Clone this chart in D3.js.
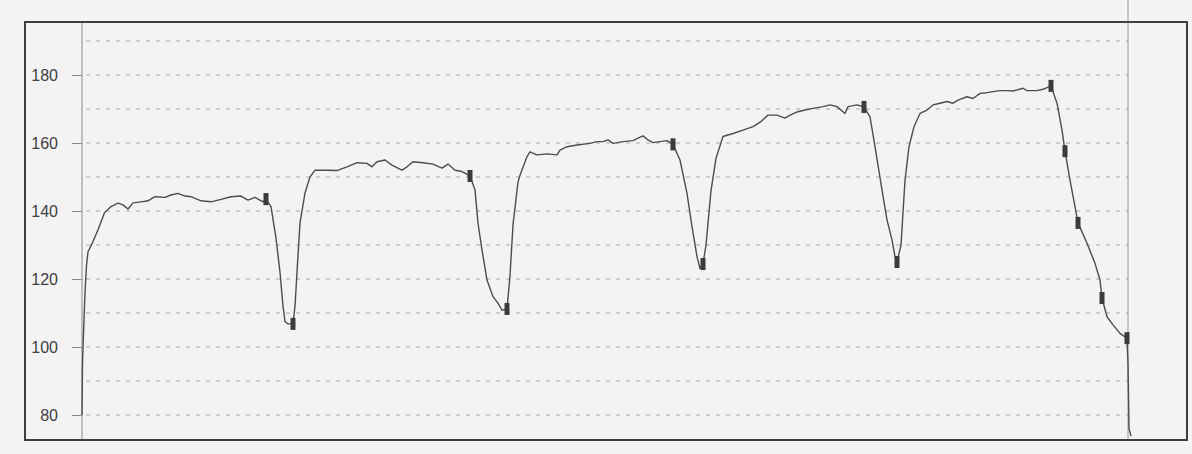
<!DOCTYPE html>
<html>
<head>
<meta charset="utf-8">
<script src="https://cdn.jsdelivr.net/npm/d3@7"></script>
<style>
  html, body { margin: 0; padding: 0; background: #f5f4f5; }
  svg { display: block; }
</style>
</head>
<body>
<svg id="chart" width="1192" height="454"></svg>
<script>
// Heart rate trace (beats/min) over elapsed time (s)
const time = [
  0, 1, 3, 6, 9, 12, 22, 32, 45, 58, 72, 82, 92, 102, 118, 132, 146, 166, 178, 192,
  206, 218, 238, 258, 278, 298, 318, 332, 346, 362, 368, 378, 388, 396, 402, 406, 412, 422, 426, 430,
  436, 446, 456, 466, 490, 510, 530, 550, 570, 580, 590, 606, 620, 640, 650, 662, 682, 702, 720, 732,
  746, 760, 776, 786, 792, 800, 810, 822, 832, 840, 850, 856, 862, 866, 872, 876, 890, 896, 910, 930,
  950, 956, 970, 990, 1016, 1030, 1042, 1052, 1062, 1082, 1102, 1112, 1122, 1132, 1142, 1156, 1170, 1182, 1196, 1210,
  1220, 1230, 1236, 1242, 1248, 1258, 1268, 1282, 1302, 1322, 1342, 1358, 1372, 1390, 1406, 1416, 1432, 1446, 1462, 1482,
  1496, 1510, 1526, 1532, 1550, 1564, 1576, 1586, 1600, 1610, 1620, 1626, 1630, 1638, 1646, 1654, 1664, 1676, 1690, 1702,
  1716, 1730, 1742, 1752, 1770, 1782, 1796, 1810, 1822, 1836, 1850, 1862, 1882, 1890, 1910, 1922, 1938, 1950, 1960, 1966,
  1976, 1986, 1992, 2010, 2026, 2036, 2040, 2050, 2062, 2076, 2090, 2092, 2094, 2098
];
const heartRate = [
  80, 95, 104, 116, 124, 128, 131, 134.5, 139.5, 141.3, 142.3, 141.8, 140.6, 142.4, 142.7, 143, 144.2, 144, 144.7, 145.2,
  144.4, 144.2, 143, 142.7, 143.4, 144.2, 144.4, 143.2, 144, 142.7, 143.5, 141.3, 132, 122, 112, 107.5, 106.8, 106.8, 112, 122,
  136.5, 145.3, 150, 152, 152, 151.9, 153, 154.2, 154, 153, 154.5, 155, 153.5, 152, 153, 154.5, 154.2, 153.8, 152.6, 153.8,
  152, 151.6, 150.3, 146.2, 136.4, 128.5, 119.7, 114.8, 112.9, 110.8, 111.2, 121, 136, 141, 148.5, 150.5, 156, 157.4, 156.5, 156.8,
  156.5, 157.9, 158.9, 159.4, 159.9, 160.4, 160.4, 160.9, 159.9, 160.4, 160.7, 161.4, 162.1, 160.9, 160.1, 160.4, 160.7, 159.6, 155, 145.2,
  135.4, 126.6, 123.1, 124.4, 130, 146, 155.5, 161.9, 162.8, 163.8, 164.8, 166.3, 168.2, 168.2, 167.3, 168.2, 169.2, 169.7, 170.2, 170.7,
  171.2, 170.7, 168.7, 170.7, 171.2, 170.6, 167.7, 158.9, 146.2, 137.4, 131.5, 126.6, 125, 130, 149, 158.9, 164.8, 168.7, 169.7, 171.2,
  171.7, 172.2, 171.7, 172.6, 173.6, 173.1, 174.6, 174.8, 175.1, 175.4, 175.4, 175.3, 176.1, 175.4, 175.4, 175.8, 176.8, 171.7, 163.8, 157.6,
  149.1, 141.3, 136.5, 130.5, 124.6, 119.7, 114.4, 108.9, 106.5, 104, 102.6, 95, 76, 73.8
];

// Recorded event markers
const markerTime = [368, 422, 776, 850, 1182, 1242, 1564, 1630, 1938, 1966, 1992, 2040, 2090];
const markerRate = [143.5, 106.8, 150.3, 111.2, 159.6, 124.4, 170.6, 125, 176.8, 157.6, 136.5, 114.4, 102.6];

const tickValues = [80, 100, 120, 140, 160, 180];
const gridValues = [80, 90, 100, 110, 120, 130, 140, 150, 160, 170, 180, 190];

const svg = d3.select("#chart");

const frame = { left: 25, top: 22, right: 1187, bottom: 440 };
const plot = { left: 82, right: 1128 };

const x = d3.scaleLinear().domain([0, 2092]).range([plot.left, plot.right]);
const y = d3.scaleLinear().domain([80, 180]).range([415, 75]);

// paper
svg.append("rect")
  .attr("x", frame.left).attr("y", frame.top)
  .attr("width", frame.right - frame.left).attr("height", frame.bottom - frame.top)
  .attr("fill", "#f4f3f3");

// dotted grid
svg.append("g")
  .selectAll("line")
  .data(gridValues)
  .join("line")
  .attr("x1", plot.left + 4).attr("x2", plot.right)
  .attr("y1", d => y(d)).attr("y2", d => y(d))
  .attr("stroke", "#a0a0a0")
  .attr("stroke-opacity", 0.6)
  .attr("stroke-width", 1.3)
  .attr("stroke-dasharray", "4,6");

// y axis
const yAxis = d3.axisLeft(y)
  .tickValues(tickValues)
  .tickSize(10)
  .tickPadding(14)
  .tickFormat(d3.format("d"));

const gy = svg.append("g")
  .attr("transform", `translate(${plot.left},0)`)
  .call(yAxis);
gy.select(".domain").remove();
gy.selectAll(".tick line").attr("stroke", "#888").attr("stroke-width", 1);
gy.selectAll(".tick text")
  .attr("fill", "#404040")
  .style("font-family", "'Liberation Sans', Arial, sans-serif")
  .style("font-size", "16px");

// axis line and right boundary line
svg.append("line")
  .attr("x1", plot.left).attr("x2", plot.left)
  .attr("y1", frame.top).attr("y2", frame.bottom)
  .attr("stroke", "#8a8a8a").attr("stroke-width", 1);
svg.append("line")
  .attr("x1", plot.right).attr("x2", plot.right)
  .attr("y1", 0).attr("y2", frame.bottom)
  .attr("stroke", "#9a9a9a").attr("stroke-width", 1);

// trace
const series = time.map((t, i) => [t, heartRate[i]]);
svg.append("path")
  .datum(series)
  .attr("fill", "none")
  .attr("stroke", "#4d4d4d")
  .attr("stroke-width", 1.4)
  .attr("stroke-linejoin", "round")
  .attr("d", d3.line().x(d => x(d[0])).y(d => y(d[1])));

// markers
svg.append("g")
  .selectAll("rect")
  .data(markerTime.map((t, i) => [t, markerRate[i]]))
  .join("rect")
  .attr("x", d => x(d[0]) - 2.5)
  .attr("y", d => y(d[1]) - 6)
  .attr("width", 5)
  .attr("height", 12)
  .attr("fill", "#3d3a3b");

// outer frame
svg.append("rect")
  .attr("x", frame.left).attr("y", frame.top)
  .attr("width", frame.right - frame.left).attr("height", frame.bottom - frame.top)
  .attr("fill", "none")
  .attr("stroke", "#3f3f3f")
  .attr("stroke-width", 2);
</script>
</body>
</html>
